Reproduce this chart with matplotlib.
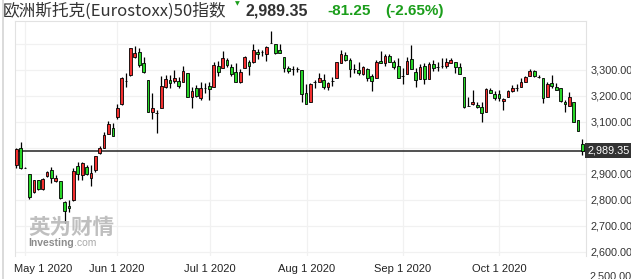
import matplotlib
matplotlib.use("Agg")
import matplotlib.pyplot as plt
import matplotlib.transforms as mtransforms
from matplotlib.lines import Line2D

plt.rcParams["font.family"] = ["Liberation Sans", "DejaVu Sans"]

# daily OHLC, Apr 29 2020 .. Oct 28 2020 (trading days)
opens = [2935, 3001, 2924, 2899, 2830, 2876, 2842, 2891, 2914, 2874,
         2873, 2794, 2776, 2800, 2930, 2896, 2927, 2886, 2917, 2981,
         3001, 3055, 3078, 3121, 3168, 3259, 3281, 3351, 3371, 3326,
         3262, 3137, 3133, 3153, 3236, 3260, 3258, 3258, 3253, 3287,
         3195, 3232, 3194, 3232, 3238, 3236, 3317, 3309, 3338, 3313,
         3291, 3253, 3309, 3330, 3330, 3370, 3368, 3360, 3403, 3399,
         3377, 3349, 3309, 3303, 3303, 3300, 3210, 3176, 3253, 3255,
         3262, 3236, 3258, 3268, 3326, 3358, 3337, 3303, 3300, 3283,
         3304, 3276, 3268, 3335, 3326, 3355, 3330, 3317, 3277, 3285,
         3341, 3291, 3265, 3315, 3265, 3323, 3313, 3315, 3317, 3328,
         3330, 3313, 3274, 3163, 3168, 3165, 3159, 3140, 3222, 3206,
         3206, 3181, 3197, 3221, 3230, 3236, 3255, 3277, 3296, 3272,
         3268, 3195, 3249, 3236, 3230, 3178, 3163, 3178, 3108, 3014]
highs = [3001, 3024, 2925, 2899, 2878, 2878, 2883, 2912, 2927, 2896,
         2873, 2797, 2800, 2924, 2947, 2947, 2935, 2935, 2971, 3008,
         3063, 3104, 3095, 3168, 3274, 3287, 3386, 3392, 3386, 3351,
         3262, 3210, 3146, 3278, 3281, 3281, 3300, 3274, 3317, 3287,
         3236, 3242, 3253, 3249, 3253, 3332, 3335, 3373, 3345, 3322,
         3326, 3304, 3355, 3338, 3399, 3381, 3377, 3394, 3450, 3399,
         3399, 3349, 3317, 3317, 3313, 3300, 3245, 3249, 3261, 3287,
         3283, 3255, 3274, 3332, 3377, 3368, 3345, 3322, 3329, 3317,
         3306, 3283, 3338, 3373, 3360, 3360, 3338, 3345, 3309, 3351,
         3396, 3306, 3322, 3326, 3330, 3338, 3330, 3345, 3345, 3345,
         3332, 3326, 3274, 3197, 3223, 3176, 3178, 3230, 3230, 3219,
         3223, 3191, 3223, 3242, 3245, 3268, 3278, 3304, 3300, 3281,
         3270, 3253, 3281, 3249, 3232, 3185, 3214, 3178, 3108, 3035]
lows = [2924, 2919, 2923, 2803, 2826, 2838, 2840, 2889, 2864, 2871,
        2804, 2710, 2755, 2797, 2876, 2877, 2896, 2855, 2909, 2978,
        2999, 3053, 3047, 3112, 3165, 3236, 3278, 3345, 3313, 3290,
        3137, 3112, 3056, 3153, 3230, 3230, 3249, 3230, 3253, 3195,
        3153, 3197, 3185, 3210, 3185, 3236, 3278, 3306, 3313, 3278,
        3253, 3249, 3306, 3281, 3328, 3342, 3355, 3335, 3403, 3360,
        3365, 3294, 3287, 3281, 3291, 3176, 3171, 3176, 3230, 3253,
        3227, 3223, 3240, 3268, 3326, 3335, 3274, 3287, 3281, 3281,
        3258, 3221, 3268, 3326, 3317, 3330, 3304, 3268, 3245, 3283,
        3304, 3236, 3264, 3245, 3264, 3297, 3296, 3306, 3309, 3326,
        3287, 3283, 3153, 3163, 3165, 3153, 3099, 3140, 3210, 3185,
        3181, 3146, 3195, 3217, 3219, 3236, 3255, 3277, 3273, 3268,
        3174, 3195, 3229, 3223, 3178, 3137, 3163, 3101, 3065, 2973]
closes = [2996, 2924, 2924, 2813, 2876, 2842, 2881, 2909, 2883, 2883,
          2809, 2759, 2768, 2912, 2901, 2942, 2901, 2904, 2968, 2999,
          3050, 3091, 3047, 3153, 3271, 3259, 3383, 3364, 3319, 3294,
          3140, 3153, 3133, 3240, 3265, 3249, 3271, 3240, 3296, 3195,
          3219, 3201, 3232, 3232, 3227, 3319, 3291, 3347, 3319, 3283,
          3255, 3294, 3351, 3317, 3377, 3363, 3368, 3389, 3403, 3365,
          3365, 3309, 3296, 3303, 3303, 3206, 3171, 3245, 3253, 3268,
          3236, 3249, 3258, 3330, 3360, 3340, 3304, 3303, 3287, 3313,
          3271, 3258, 3330, 3326, 3355, 3330, 3313, 3271, 3277, 3336,
          3304, 3260, 3313, 3265, 3322, 3306, 3313, 3315, 3330, 3338,
          3313, 3283, 3159, 3163, 3178, 3156, 3133, 3226, 3212, 3191,
          3191, 3188, 3219, 3230, 3230, 3253, 3272, 3296, 3277, 3272,
          3191, 3246, 3240, 3224, 3181, 3168, 3195, 3101, 3067, 2989.35]

last_price = 2989.35
change = "-81.25"
change_pct = "(-2.65%)"
tick_pos = [2.0, 22.9, 44.1, 66.2, 88.1, 110.0]
tick_labels = ["May 1 2020", "Jun 1 2020", "Jul 1 2020", "Aug 1 2020", "Sep 1 2020", "Oct 1 2020"]
y_grid = [2600, 2700, 2800, 2900, 3000, 3100, 3200, 3300, 3400]
y_labeled = [2600, 2700, 2800, 2900, 3100, 3200, 3300]

UP = "#f22f2f"
DOWN = "#27d627"
GREEN_TXT = "#1b9e1b"

W, H = 631, 279
fig = plt.figure(figsize=(W / 100, H / 100), dpi=100)
ax = fig.add_axes([15 / W, 1 - 256 / H, (586 - 15) / W, (256 - 20.7) / H])

n = len(closes)
idx = list(range(n))
ax.vlines(idx, lows, highs, color="black", linewidth=0.9, zorder=3)
bottoms = [min(o, c) for o, c in zip(opens, closes)]
heights = [abs(c - o) for o, c in zip(opens, closes)]
colors = [UP if c > o else DOWN for o, c in zip(opens, closes)]
ax.bar(idx, heights, bottom=bottoms, width=0.62, color=colors,
       edgecolor="black", linewidth=0.6, zorder=4)

ax.axhline(last_price, color="#333333", linewidth=1.2, zorder=2)

ax.set_xlim(-0.3, 129.8)
ax.set_ylim(2584.6, 3489.6)

for y in y_grid:
    ax.axhline(y, color="#f1f1f1", linewidth=0.9, zorder=0)
for x in tick_pos:
    ax.axvline(x, color="#f1f1f1", linewidth=0.9, zorder=0)

ax.yaxis.tick_right()
ax.set_yticks(y_labeled)
ax.set_yticklabels([f"{v:,.2f}" for v in y_labeled], fontsize=7.8, color="#333333")
ax.set_xticks(tick_pos)
ax.set_xticklabels(tick_labels, fontsize=8, color="#222222")
ax.tick_params(axis="both", length=0)
ax.tick_params(axis="y", pad=3)
ax.tick_params(axis="x", pad=6)
first = ax.get_xticklabels()[0]
first.set_transform(first.get_transform() + mtransforms.ScaledTranslation(0.18, 0, fig.dpi_scale_trans))

for side in ["left", "right", "top"]:
    ax.spines[side].set_color("#e2e2e2")
    ax.spines[side].set_linewidth(0.8)
ax.spines["bottom"].set_visible(False)

# 2,500 label sits at the bottom edge, partly cut as in the original
ax.text(1.0 + 3 / 571, 2505, f"{2500:,.2f}", transform=ax.get_yaxis_transform(),
        fontsize=7.8, color="#333333", va="center", ha="left", clip_on=False)

# last price tag
ax.text(1.0 + 2 / 571, last_price, f"{last_price:,.2f}", transform=ax.get_yaxis_transform(),
        fontsize=7.8, color="white", va="center", ha="left", clip_on=False, zorder=6,
        bbox=dict(boxstyle="square,pad=0.25", facecolor="#333333", edgecolor="none"))

# page border
fig.add_artist(Line2D([3 / W, 3 / W], [0, 1], color="#d4d4d4", linewidth=1.2))

# header
cjk = ["Noto Sans CJK SC", "DejaVu Sans"]
fig.text(3 / W, 1 - 11 / H, "欧洲斯托克(Eurostoxx)50指数", family=cjk, fontsize=12,
         color="#333333", va="center", ha="left")
fig.text(237 / W, 1 - 4 / H, "▼", fontsize=4.5, color=GREEN_TXT, va="center", ha="center",
         family=["DejaVu Sans"])
fig.text(246 / W, 1 - 11 / H, f"{last_price:,.2f}", fontsize=11.5, fontweight="bold",
         color="#333333", va="center", ha="left")
fig.text(327 / W, 1 - 11 / H, change, fontsize=11, fontweight="bold", color=GREEN_TXT,
         va="center", ha="left")
fig.text(385 / W, 1 - 11 / H, change_pct, fontsize=11, fontweight="bold", color=GREEN_TXT,
         va="center", ha="left")

# watermark
fig.text(28 / W, 1 - 227 / H, "英为财情", family=cjk, fontsize=15.5, fontweight="bold",
         color="#b8b8b8", va="center", ha="left", alpha=0.9)
fig.text(28 / W, 1 - 243 / H, "Investing", fontsize=7.5, fontweight="bold",
         color="#8c8c8c", va="center", ha="left")
fig.text(74 / W, 1 - 243 / H, ".com", fontsize=7.5, color="#aaaaaa", va="center", ha="left")

fig.savefig("out.png", dpi=100)
